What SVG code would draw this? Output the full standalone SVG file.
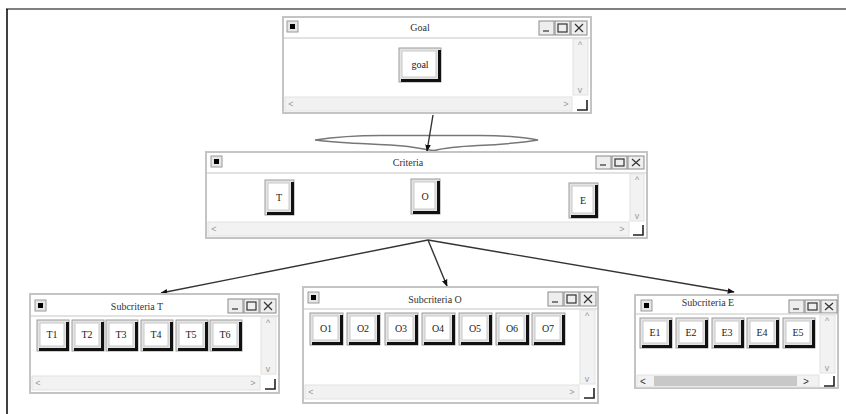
<svg xmlns="http://www.w3.org/2000/svg" width="846" height="414" viewBox="0 0 846 414">
<defs>
<marker id="ah" viewBox="0 0 10 10" refX="9" refY="5" markerWidth="7" markerHeight="7" orient="auto" markerUnits="userSpaceOnUse">
<path d="M0,1 L10,5 L0,9 Z" fill="#111"/>
</marker>
<style>
.win{fill:#fff;stroke:#c4c4c4;stroke-width:2}
.sep{stroke:#d8d8d8;stroke-width:1.5}
.sb{fill:#f2f2f2;stroke:#e2e2e2;stroke-width:1}
.mb{fill:#e6e6e6;stroke:#9a9a9a;stroke-width:1}
.mbs{fill:none;stroke:#333;stroke-width:1.5}
.ctl{fill:#eee;stroke:#8a8a8a;stroke-width:1}
.glyph{fill:none;stroke:#333;stroke-width:1.2}
.corner{fill:none;stroke:#222;stroke-width:1.6}
.bo{fill:#e4e4e4;stroke:#9c9c9c;stroke-width:1}
.bi{fill:#fff;stroke:#c8c8c8;stroke-width:1}
.bs{fill:none;stroke:#111;stroke-width:3}
.tt{font-family:"Liberation Serif",serif;font-size:10px;fill:#333;text-anchor:middle}
.bt{font-family:"Liberation Serif",serif;font-size:10px;fill:#222;text-anchor:middle}
.arr{font-family:"Liberation Sans",sans-serif;font-size:9px;fill:#999;text-anchor:middle}
.edge{fill:none;stroke:#333;stroke-width:1.4;marker-end:url(#ah)}
</style>
</defs>
<rect width="846" height="414" fill="#fff"/>
<line x1="6" y1="9" x2="846" y2="9" stroke="#808080" stroke-width="2"/>
<line x1="7" y1="9" x2="7" y2="414" stroke="#000" stroke-width="1.5"/>

<g id="cloud">
<path d="M315,140 C335,137 355,135.5 380,135.5 L480,135.5 C505,135.5 522,137 538,140 C520,143 500,144.5 478,145.5 C458,146.5 444,148 434,150.5 C426,149.5 418,148 408,146.5 C388,144.5 368,144 350,143 C335,142 323,141 315,140 Z" fill="#fff" stroke="#777" stroke-width="1.5"/>
</g>

<g id="connectors">
<line class="edge" x1="433" y1="115" x2="427" y2="151"/>
<line class="edge" x1="428" y1="240" x2="161" y2="293"/>
<line class="edge" x1="428" y1="240" x2="447" y2="286"/>
<line class="edge" x1="428" y1="240" x2="734" y2="292"/>
</g>

<g id="goal-window">
<rect class="win" x="283" y="17" width="308" height="96"/>
<rect class="mb" x="287" y="21" width="11" height="11"/><rect x="290" y="24" width="5" height="5" fill="#000"/>
<text class="tt" x="420" y="31">Goal</text>
<rect class="ctl" x="539" y="21" width="15" height="14"/><line class="glyph" x1="543" y1="31" x2="549" y2="31"/>
<rect class="ctl" x="555" y="21" width="15" height="14"/><rect class="glyph" x="558" y="24" width="9" height="8"/>
<rect class="ctl" x="571" y="21" width="16" height="14"/><path class="glyph" d="M575,24 L583,32 M583,24 L575,32"/>
<line class="sep" x1="284" y1="38" x2="590" y2="38"/>
<rect class="sb" x="573" y="39" width="15" height="56"/>
<text class="arr" x="580" y="48">^</text><text class="arr" x="580" y="93">v</text>
<rect class="sb" x="285" y="97" width="287" height="14"/>
<text class="arr" x="291" y="107">&lt;</text><text class="arr" x="566" y="107">&gt;</text>
<path class="corner" d="M587,100 V110 H577"/>
<g id="btn-goal">
<rect class="bo" x="399" y="48" width="42" height="34"/>
<rect class="bi" x="402" y="51" width="34" height="26"/>
<path class="bs" d="M439.5,50 V80.5 H401"/>
<text class="bt" x="420" y="68">goal</text>
</g>
</g>

<g id="criteria-window">
<rect class="win" x="206" y="152" width="441" height="86"/>
<rect class="mb" x="211" y="156" width="11" height="11"/><rect x="214" y="159" width="5" height="5" fill="#000"/>
<text class="tt" x="408" y="166">Criteria</text>
<rect class="ctl" x="596" y="156" width="15" height="13"/><line class="glyph" x1="600" y1="165" x2="606" y2="165"/>
<rect class="ctl" x="612" y="156" width="15" height="13"/><rect class="glyph" x="615" y="159" width="9" height="7"/>
<rect class="ctl" x="628" y="156" width="16" height="13"/><path class="glyph" d="M632,159 L640,166 M640,159 L632,166"/>
<line class="sep" x1="207" y1="173" x2="646" y2="173"/>
<rect class="sb" x="630" y="174" width="14" height="47"/>
<text class="arr" x="637" y="183">^</text><text class="arr" x="637" y="219">v</text>
<rect class="sb" x="208" y="222" width="421" height="14"/>
<text class="arr" x="214" y="232">&lt;</text><text class="arr" x="622" y="232">&gt;</text>
<path class="corner" d="M643,225 V235 H633"/>
<g id="btn-T">
<rect class="bo" x="265" y="180" width="29" height="35"/>
<rect class="bi" x="268" y="183" width="21" height="27"/>
<path class="bs" d="M292.5,182 V213.5 H267"/>
<text class="bt" x="279" y="201">T</text>
</g>
<g id="btn-O">
<rect class="bo" x="411" y="179" width="29" height="35"/>
<rect class="bi" x="414" y="182" width="21" height="27"/>
<path class="bs" d="M438.5,181 V212.5 H413"/>
<text class="bt" x="425" y="200">O</text>
</g>
<g id="btn-E">
<rect class="bo" x="569" y="183" width="29" height="35"/>
<rect class="bi" x="572" y="186" width="21" height="27"/>
<path class="bs" d="M596.5,185 V216.5 H571"/>
<text class="bt" x="583" y="204">E</text>
</g>
</g>

<g id="subcriteria-T-window">
<rect class="win" x="30" y="294" width="249" height="99"/>
<rect class="mb" x="35" y="300" width="11" height="11"/><rect x="38" y="303" width="5" height="5" fill="#000"/>
<text class="tt" x="137" y="310">Subcriteria T</text>
<rect class="ctl" x="228" y="299" width="15" height="14"/><line class="glyph" x1="232" y1="309" x2="238" y2="309"/>
<rect class="ctl" x="244" y="299" width="15" height="14"/><rect class="glyph" x="247" y="302" width="9" height="8"/>
<rect class="ctl" x="260" y="299" width="16" height="14"/><path class="glyph" d="M264,302 L272,310 M272,302 L264,310"/>
<line class="sep" x1="31" y1="316" x2="278" y2="316"/>
<rect class="sb" x="261" y="317" width="15" height="57"/>
<text class="arr" x="268" y="326">^</text><text class="arr" x="268" y="372">v</text>
<rect class="sb" x="32" y="376" width="228" height="14"/>
<text class="arr" x="38" y="386">&lt;</text><text class="arr" x="253" y="386">&gt;</text>
<path class="corner" d="M275,379 V389 H265"/>
<g id="btn-T1"><rect class="bo" x="37" y="320" width="32" height="31"/><rect class="bi" x="40" y="323" width="24" height="23"/><path class="bs" d="M67.5,322 V349.5 H39"/><text class="bt" x="52" y="338">T1</text></g>
<g id="btn-T2"><rect class="bo" x="72" y="320" width="32" height="31"/><rect class="bi" x="75" y="323" width="24" height="23"/><path class="bs" d="M102.5,322 V349.5 H74"/><text class="bt" x="87" y="338">T2</text></g>
<g id="btn-T3"><rect class="bo" x="106" y="320" width="32" height="31"/><rect class="bi" x="109" y="323" width="24" height="23"/><path class="bs" d="M136.5,322 V349.5 H108"/><text class="bt" x="121" y="338">T3</text></g>
<g id="btn-T4"><rect class="bo" x="141" y="320" width="32" height="31"/><rect class="bi" x="144" y="323" width="24" height="23"/><path class="bs" d="M171.5,322 V349.5 H143"/><text class="bt" x="156" y="338">T4</text></g>
<g id="btn-T5"><rect class="bo" x="176" y="320" width="32" height="31"/><rect class="bi" x="179" y="323" width="24" height="23"/><path class="bs" d="M206.5,322 V349.5 H178"/><text class="bt" x="191" y="338">T5</text></g>
<g id="btn-T6"><rect class="bo" x="210" y="320" width="32" height="31"/><rect class="bi" x="213" y="323" width="24" height="23"/><path class="bs" d="M240.5,322 V349.5 H212"/><text class="bt" x="225" y="338">T6</text></g>
</g>

<g id="subcriteria-O-window">
<rect class="win" x="303" y="287" width="295" height="116"/>
<rect class="mb" x="308" y="292" width="11" height="11"/><rect x="311" y="295" width="5" height="5" fill="#000"/>
<text class="tt" x="435" y="303">Subcriteria O</text>
<rect class="ctl" x="548" y="292" width="15" height="14"/><line class="glyph" x1="552" y1="302" x2="558" y2="302"/>
<rect class="ctl" x="564" y="292" width="15" height="14"/><rect class="glyph" x="567" y="295" width="9" height="8"/>
<rect class="ctl" x="580" y="292" width="16" height="14"/><path class="glyph" d="M584,295 L592,303 M592,295 L584,303"/>
<line class="sep" x1="304" y1="309" x2="597" y2="309"/>
<rect class="sb" x="580" y="310" width="15" height="74"/>
<text class="arr" x="587" y="319">^</text><text class="arr" x="587" y="382">v</text>
<rect class="sb" x="305" y="385" width="274" height="14"/>
<text class="arr" x="311" y="395">&lt;</text><text class="arr" x="572" y="395">&gt;</text>
<path class="corner" d="M594,388 V398 H584"/>
<g id="btn-O1"><rect class="bo" x="310" y="313" width="33" height="32"/><rect class="bi" x="313" y="316" width="25" height="24"/><path class="bs" d="M341.5,315 V343.5 H312"/><text class="bt" x="326" y="332">O1</text></g>
<g id="btn-O2"><rect class="bo" x="347" y="313" width="33" height="32"/><rect class="bi" x="350" y="316" width="25" height="24"/><path class="bs" d="M378.5,315 V343.5 H349"/><text class="bt" x="363" y="332">O2</text></g>
<g id="btn-O3"><rect class="bo" x="385" y="313" width="33" height="32"/><rect class="bi" x="388" y="316" width="25" height="24"/><path class="bs" d="M416.5,315 V343.5 H387"/><text class="bt" x="401" y="332">O3</text></g>
<g id="btn-O4"><rect class="bo" x="422" y="313" width="33" height="32"/><rect class="bi" x="425" y="316" width="25" height="24"/><path class="bs" d="M453.5,315 V343.5 H424"/><text class="bt" x="438" y="332">O4</text></g>
<g id="btn-O5"><rect class="bo" x="459" y="313" width="33" height="32"/><rect class="bi" x="462" y="316" width="25" height="24"/><path class="bs" d="M490.5,315 V343.5 H461"/><text class="bt" x="475" y="332">O5</text></g>
<g id="btn-O6"><rect class="bo" x="496" y="313" width="33" height="32"/><rect class="bi" x="499" y="316" width="25" height="24"/><path class="bs" d="M527.5,315 V343.5 H498"/><text class="bt" x="512" y="332">O6</text></g>
<g id="btn-O7"><rect class="bo" x="532" y="313" width="33" height="32"/><rect class="bi" x="535" y="316" width="25" height="24"/><path class="bs" d="M563.5,315 V343.5 H534"/><text class="bt" x="548" y="332">O7</text></g>
</g>

<g id="subcriteria-E-window">
<rect class="win" x="635" y="295" width="203" height="93"/>
<rect class="mb" x="641" y="300" width="11" height="11"/><rect x="644" y="303" width="5" height="5" fill="#000"/>
<text class="tt" x="708" y="306">Subcriteria E</text>
<rect class="ctl" x="789" y="300" width="15" height="13"/><line class="glyph" x1="793" y1="309" x2="799" y2="309"/>
<rect class="ctl" x="805" y="300" width="15" height="13"/><rect class="glyph" x="808" y="303" width="9" height="7"/>
<rect class="ctl" x="821" y="300" width="16" height="13"/><path class="glyph" d="M825,303 L833,310 M833,303 L825,310"/>
<line class="sep" x1="636" y1="314" x2="837" y2="314"/>
<rect class="sb" x="820" y="315" width="15" height="58"/>
<text class="arr" x="827" y="324">^</text><text class="arr" x="827" y="371">v</text>
<rect class="sb" x="637" y="375" width="182" height="12"/>
<rect x="654" y="376" width="143" height="10" fill="#c8c8c8"/>
<text x="643" y="385" font-family="Liberation Sans, sans-serif" font-size="10" fill="#333" text-anchor="middle">&lt;</text>
<text x="806" y="385" font-family="Liberation Sans, sans-serif" font-size="10" fill="#333" text-anchor="middle">&gt;</text>
<path class="corner" d="M834,376 V386 H824"/>
<g id="btn-E1"><rect class="bo" x="640" y="318" width="32" height="30"/><rect class="bi" x="643" y="321" width="24" height="22"/><path class="bs" d="M670.5,320 V346.5 H642"/><text class="bt" x="655" y="336">E1</text></g>
<g id="btn-E2"><rect class="bo" x="676" y="318" width="32" height="30"/><rect class="bi" x="679" y="321" width="24" height="22"/><path class="bs" d="M706.5,320 V346.5 H678"/><text class="bt" x="691" y="336">E2</text></g>
<g id="btn-E3"><rect class="bo" x="712" y="318" width="32" height="30"/><rect class="bi" x="715" y="321" width="24" height="22"/><path class="bs" d="M742.5,320 V346.5 H714"/><text class="bt" x="727" y="336">E3</text></g>
<g id="btn-E4"><rect class="bo" x="747" y="318" width="32" height="30"/><rect class="bi" x="750" y="321" width="24" height="22"/><path class="bs" d="M777.5,320 V346.5 H749"/><text class="bt" x="762" y="336">E4</text></g>
<g id="btn-E5"><rect class="bo" x="783" y="318" width="32" height="30"/><rect class="bi" x="786" y="321" width="24" height="22"/><path class="bs" d="M813.5,320 V346.5 H785"/><text class="bt" x="798" y="336">E5</text></g>
</g>
</svg>
